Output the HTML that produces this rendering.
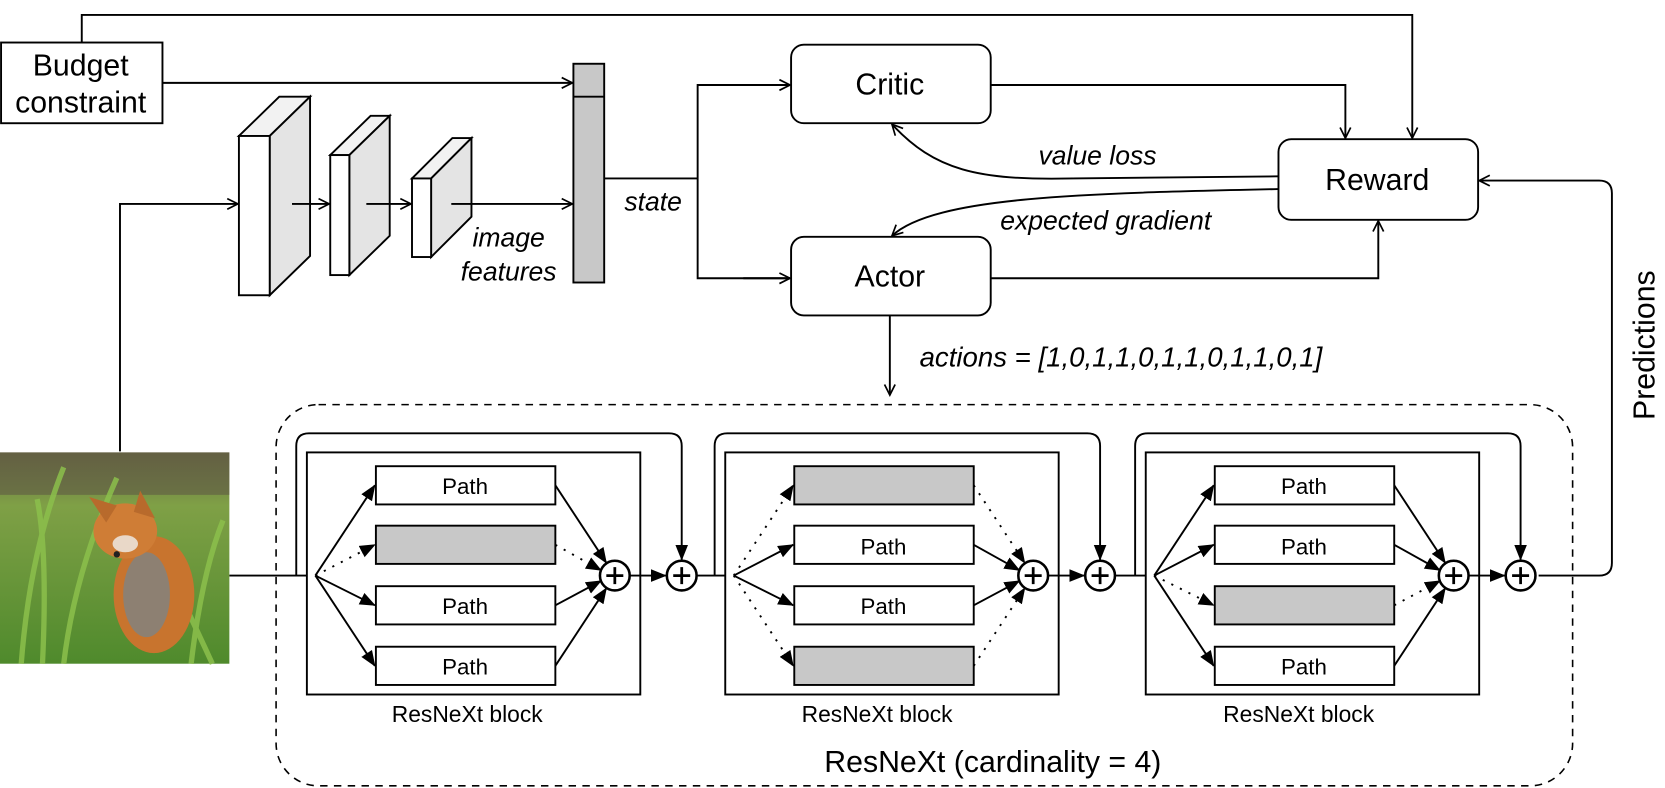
<!DOCTYPE html>
<html><head><meta charset="utf-8"><style>
html,body{margin:0;padding:0;background:#fff;}
svg{display:block;}
text{font-family:"Liberation Sans",Arial,sans-serif;fill:#000;}
.it{font-style:italic;}
</style></head><body>
<svg width="1665" height="788" viewBox="0 0 1568 742" xmlns="http://www.w3.org/2000/svg">
<defs>
<marker id="o" markerWidth="14" markerHeight="14" refX="11" refY="6" orient="auto" markerUnits="userSpaceOnUse">
<path d="M1,1 L11,6 L1,11" fill="none" stroke="#000" stroke-width="1.6"/></marker>
<marker id="f" markerWidth="16" markerHeight="14" refX="14" refY="6" orient="auto" markerUnits="userSpaceOnUse">
<path d="M0,0 L15,6 L0,12 Z" fill="#000"/></marker>
<linearGradient id="g1" x1="0" y1="0" x2="0" y2="1"><stop offset="0" stop-color="#6b6a45"/><stop offset="0.25" stop-color="#7fa046"/><stop offset="1" stop-color="#4f8a2c"/></linearGradient>
</defs>
<g stroke="#000" stroke-width="1.8" fill="none">
<polyline points="77,40 77,14 1330,14 1330,130" marker-end="url(#o)"/>
<rect x="1" y="40" width="152" height="76" fill="#fff"/>
<line x1="153" y1="78" x2="539" y2="78" marker-end="url(#o)"/>
<rect x="540" y="60" width="29" height="206" fill="#c8c8c8"/>
<line x1="540" y1="91" x2="569" y2="91"/>
<polyline points="113,425 113,192 224,192" marker-end="url(#o)"/>
<polygon points="225,128 263,91 292,91 254,128" fill="#f2f2f2"/>
<polygon points="254,128 292,91 292,241 254,278" fill="#e4e4e4"/>
<rect x="225" y="128" width="29" height="150" fill="#fff"/>
<polygon points="311,146 349,109 367,109 329,146" fill="#f2f2f2"/>
<polygon points="329,146 367,109 367,222 329,259" fill="#e4e4e4"/>
<rect x="311" y="146" width="18" height="113" fill="#fff"/>
<polygon points="388,168 426,130 444,130 406,168" fill="#f2f2f2"/>
<polygon points="406,168 444,130 444,204 406,242" fill="#e4e4e4"/>
<rect x="388" y="168" width="18" height="74" fill="#fff"/>
<line x1="275" y1="192" x2="310" y2="192" marker-end="url(#o)"/>
<line x1="345" y1="192" x2="387" y2="192" marker-end="url(#o)"/>
<line x1="425" y1="192" x2="539" y2="192" marker-end="url(#o)"/>
<polyline points="569,168 657,168"/>
<polyline points="744,80 657,80 657,262 744,262" />
<line x1="700" y1="80" x2="744" y2="80" marker-end="url(#o)"/>
<line x1="700" y1="262" x2="744" y2="262" marker-end="url(#o)"/>
<rect x="745" y="42" width="188" height="74" rx="12" fill="#fff"/>
<rect x="745" y="223" width="188" height="74" rx="12" fill="#fff"/>
<rect x="1204" y="131" width="188" height="76" rx="12" fill="#fff"/>
<polyline points="933,80 1267,80 1267,130" marker-end="url(#o)"/>
<polyline points="933,262 1298,262 1298,208" marker-end="url(#o)"/>
<path d="M1204,166 L1010,168 C920,170 880,160 840,117" marker-end="url(#o)"/>
<path d="M1204,178 C1020,182 880,185 840,222" marker-end="url(#o)"/>
<line x1="838" y1="297" x2="838" y2="372" marker-end="url(#o)"/>
<path d="M1449,542 L1506,542 Q1518,542 1518,530 L1518,182 Q1518,170 1506,170 L1393,170" marker-end="url(#o)"/>
<rect x="260" y="381" width="1221" height="359" rx="40" stroke-dasharray="7,6" stroke-width="1.5"/>
<line x1="216" y1="542" x2="297" y2="542"/>
</g>
<g>
<rect x="0" y="426" width="216" height="199" fill="url(#g1)"/>
<rect x="0" y="426" width="216" height="40" fill="#5f5a42" opacity="0.6"/>
<g stroke="#8cc04c" stroke-width="5" fill="none" opacity="0.85">
<path d="M20,625 Q28,520 60,440"/><path d="M40,625 Q45,520 35,470"/><path d="M60,625 Q70,540 110,450"/>
<path d="M180,625 Q190,540 210,490"/><path d="M200,625 Q170,560 150,520"/>
</g>
<ellipse cx="145" cy="560" rx="38" ry="55" fill="#c8742e"/>
<ellipse cx="138" cy="560" rx="22" ry="40" fill="#8d8072"/>
<ellipse cx="118" cy="500" rx="30" ry="26" fill="#cf7d36"/>
<polygon points="84,468 100,492 110,476" fill="#b86a2c"/>
<polygon points="132,462 126,482 146,488" fill="#b86a2c"/>
<ellipse cx="118" cy="512" rx="12" ry="8" fill="#e9d8c8"/>
<circle cx="110" cy="522" r="3" fill="#222"/>
</g>
<g stroke="#000" stroke-width="1.8" fill="none">
<rect x="289" y="426" width="314" height="228" fill="#fff"/>
<path d="M279,542 L279,420 Q279,408 291,408 L630,408 Q642,408 642,420 L642,527" marker-end="url(#f)"/>
<rect x="354" y="439" width="169" height="36" fill="#fff"/>
<rect x="354" y="495" width="169" height="36" fill="#c8c8c8"/>
<rect x="354" y="552" width="169" height="36" fill="#fff"/>
<rect x="354" y="609" width="169" height="36" fill="#fff"/>
<line x1="297" y1="542" x2="353" y2="457" marker-end="url(#f)"/>
<line x1="297" y1="542" x2="353" y2="513" stroke-dasharray="2,7" marker-end="url(#f)"/>
<line x1="297" y1="542" x2="353" y2="570" marker-end="url(#f)"/>
<line x1="297" y1="542" x2="353" y2="627" marker-end="url(#f)"/>
<line x1="523" y1="457" x2="571" y2="530" marker-end="url(#f)"/>
<line x1="523" y1="513" x2="566" y2="537" stroke-dasharray="2,7" marker-end="url(#f)"/>
<line x1="523" y1="570" x2="566" y2="547" marker-end="url(#f)"/>
<line x1="523" y1="627" x2="571" y2="554" marker-end="url(#f)"/>
<line x1="593" y1="542" x2="627" y2="542" marker-end="url(#f)"/>
<line x1="656" y1="542" x2="691" y2="542"/>
<circle cx="579" cy="542" r="14" fill="#fff" stroke-width="2.4"/>
<circle cx="642" cy="542" r="14" fill="#fff" stroke-width="2.4"/>
<path d="M571,542 H587 M579,534 V550 M634,542 H650 M642,534 V550" stroke-width="2.6"/>
</g>
<g transform="translate(394,0)" stroke="#000" stroke-width="1.8" fill="none">
<rect x="289" y="426" width="314" height="228" fill="#fff"/>
<path d="M279,542 L279,420 Q279,408 291,408 L630,408 Q642,408 642,420 L642,527" marker-end="url(#f)"/>
<rect x="354" y="439" width="169" height="36" fill="#c8c8c8"/>
<rect x="354" y="495" width="169" height="36" fill="#fff"/>
<rect x="354" y="552" width="169" height="36" fill="#fff"/>
<rect x="354" y="609" width="169" height="36" fill="#c8c8c8"/>
<line x1="297" y1="542" x2="353" y2="457" stroke-dasharray="2,7" marker-end="url(#f)"/>
<line x1="297" y1="542" x2="353" y2="513" marker-end="url(#f)"/>
<line x1="297" y1="542" x2="353" y2="570" marker-end="url(#f)"/>
<line x1="297" y1="542" x2="353" y2="627" stroke-dasharray="2,7" marker-end="url(#f)"/>
<line x1="523" y1="457" x2="571" y2="530" stroke-dasharray="2,7" marker-end="url(#f)"/>
<line x1="523" y1="513" x2="566" y2="537" marker-end="url(#f)"/>
<line x1="523" y1="570" x2="566" y2="547" marker-end="url(#f)"/>
<line x1="523" y1="627" x2="571" y2="554" stroke-dasharray="2,7" marker-end="url(#f)"/>
<line x1="593" y1="542" x2="627" y2="542" marker-end="url(#f)"/>
<line x1="656" y1="542" x2="691" y2="542"/>
<circle cx="579" cy="542" r="14" fill="#fff" stroke-width="2.4"/>
<circle cx="642" cy="542" r="14" fill="#fff" stroke-width="2.4"/>
<path d="M571,542 H587 M579,534 V550 M634,542 H650 M642,534 V550" stroke-width="2.6"/>
</g>
<g transform="translate(790,0)" stroke="#000" stroke-width="1.8" fill="none">
<rect x="289" y="426" width="314" height="228" fill="#fff"/>
<path d="M279,542 L279,420 Q279,408 291,408 L630,408 Q642,408 642,420 L642,527" marker-end="url(#f)"/>
<rect x="354" y="439" width="169" height="36" fill="#fff"/>
<rect x="354" y="495" width="169" height="36" fill="#fff"/>
<rect x="354" y="552" width="169" height="36" fill="#c8c8c8"/>
<rect x="354" y="609" width="169" height="36" fill="#fff"/>
<line x1="297" y1="542" x2="353" y2="457" marker-end="url(#f)"/>
<line x1="297" y1="542" x2="353" y2="513" marker-end="url(#f)"/>
<line x1="297" y1="542" x2="353" y2="570" stroke-dasharray="2,7" marker-end="url(#f)"/>
<line x1="297" y1="542" x2="353" y2="627" marker-end="url(#f)"/>
<line x1="523" y1="457" x2="571" y2="530" marker-end="url(#f)"/>
<line x1="523" y1="513" x2="566" y2="537" marker-end="url(#f)"/>
<line x1="523" y1="570" x2="566" y2="547" stroke-dasharray="2,7" marker-end="url(#f)"/>
<line x1="523" y1="627" x2="571" y2="554" marker-end="url(#f)"/>
<line x1="593" y1="542" x2="627" y2="542" marker-end="url(#f)"/>
<circle cx="579" cy="542" r="14" fill="#fff" stroke-width="2.4"/>
<circle cx="642" cy="542" r="14" fill="#fff" stroke-width="2.4"/>
<path d="M571,542 H587 M579,534 V550 M634,542 H650 M642,534 V550" stroke-width="2.6"/>
</g>
<g font-size="28.5" text-anchor="middle">
<text x="76" y="71">Budget</text>
<text x="76" y="106">constraint</text>
<text x="838" y="89">Critic</text>
<text x="838" y="270">Actor</text>
<text x="1297" y="179">Reward</text>
<text x="935" y="727">ResNeXt (cardinality = 4)</text>
<text transform="translate(1558,325) rotate(-90)">Predictions</text>
</g>
<g font-size="25">
<text x="479" y="232" text-anchor="middle" class="it">image</text>
<text x="479" y="264" text-anchor="middle" class="it">features</text>
<text x="588" y="198" class="it">state</text>
<text x="978" y="155" class="it">value loss</text>
<text x="942" y="216" class="it">expected gradient</text>
<text x="866" y="345" class="it" font-size="26">actions = [1,0,1,1,0,1,1,0,1,1,0,1]</text>
</g>
<g font-size="21" text-anchor="middle">
<text x="438" y="465">Path</text><text x="438" y="578">Path</text><text x="438" y="635">Path</text>
<text x="832" y="522">Path</text><text x="832" y="578">Path</text>
<text x="1228" y="465">Path</text><text x="1228" y="522">Path</text><text x="1228" y="635">Path</text>
</g>
<g font-size="21.5" text-anchor="middle">
<text x="440" y="680">ResNeXt block</text>
<text x="826" y="680">ResNeXt block</text>
<text x="1223" y="680">ResNeXt block</text>
</g>
</svg>
</body></html>
